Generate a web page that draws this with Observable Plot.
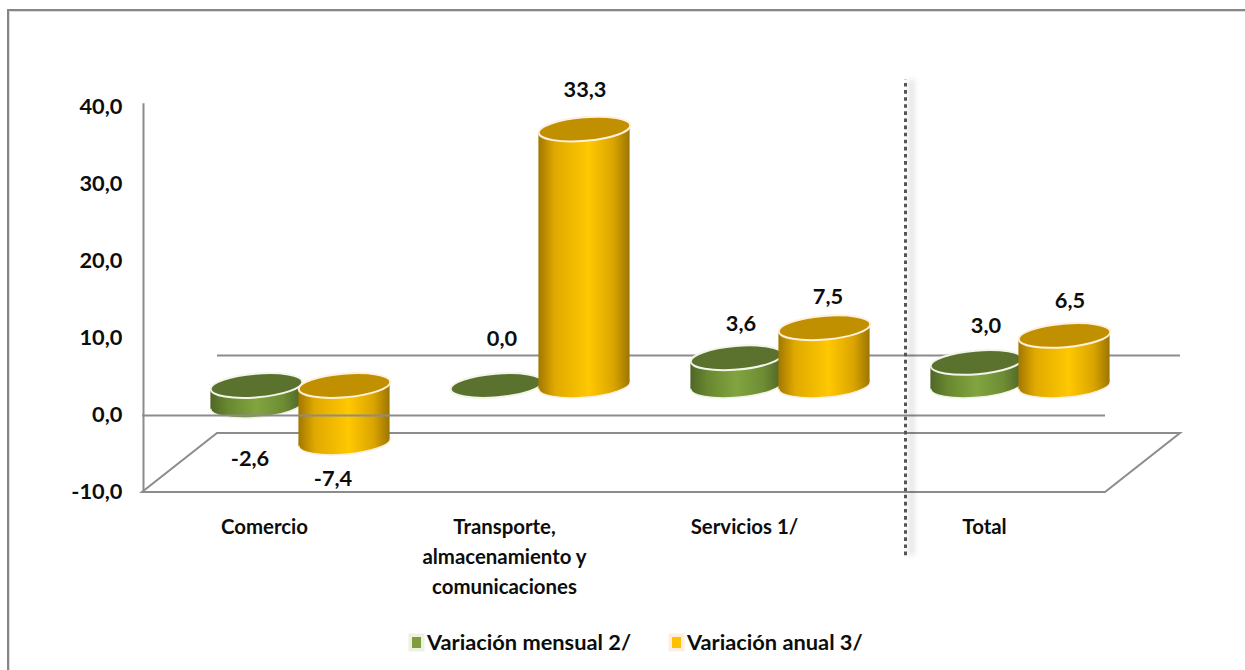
<!DOCTYPE html>
<html lang="es">
<head>
<meta charset="utf-8">
<script src="https://cdn.jsdelivr.net/npm/d3@7"></script>
<script src="https://cdn.jsdelivr.net/npm/@observablehq/plot@0.6"></script>
<style>
  html, body { margin: 0; padding: 0; background: #fff; width: 1245px; height: 670px; overflow: hidden; }
  body { position: relative; font-family: Lato, "Open Sans", sans-serif; color: #0d0d0d; }
  #frame { position: absolute; left: 7px; top: 9px; right: -5px; bottom: -5px; border: solid #868686; border-width: 2.5px 0 0 2.5px; box-shadow: inset 1px 1px 0 #dcdcdc; pointer-events: none; }
  #chart svg { display: block; }
  #legend { position: absolute; left: 0; top: 628px; height: 28px; width: 100%; font-weight: 700; font-size: 21.8px; line-height: 28px; }
  .key { position: absolute; top: 0; white-space: nowrap; }
  .swatch { position: absolute; top: 9px; width: 9px; height: 11px; }
  .sep { filter: blur(2.5px); }
</style>
</head>
<body>
<div id="frame"></div>
<div id="chart"></div>
<div id="legend">
  <span class="swatch" style="left:412px;background:#7f9c3f;box-shadow:0 0 0 3.5px #ecf1e2"></span>
  <span class="key" style="left:427px">Variación mensual 2/</span>
  <span class="swatch" style="left:672px;background:#ffc000;box-shadow:0 0 0 3.5px #fdeee0"></span>
  <span class="key" style="left:687px">Variación anual 3/</span>
</div>
<script>
const categories = ["Comercio", "Transporte,\nalmacenamiento y\ncomunicaciones", "Servicios 1/", "Total"];
const mensual = [-2.6, 0.0, 3.6, 3.0];
const anual = [-7.4, 33.3, 7.5, 6.5];
const yTicks = [-10, 0, 10, 20, 30, 40];

// Hand-placed label nudges of the original chart, in pixels.
const mensualLabelOffsets = [[-7, 53], [5, -46], [4, -34], [9, -36]];
const anualLabelOffsets = [[-12, 37], [0, -39], [3, -31], [5, -34]];

const comma = (v) => v.toFixed(1).replace(".", ",");
const table = (values) => categories.map((c, i) => ({c, v: values[i]}));

const font = "Lato, 'Open Sans', sans-serif";
const textSize = 21.8;
const categorySize = 20.4;
const grey = "#8c8c8c";
const depth = {dx: 75, dy: -60};
const plane = {dx: 36, dy: -30};
const tilt = -4.8;
const rx = 46, ry = 11.8;

// Tilted ellipse as a Plot symbol (bezier approximation).
const ellipseSymbol = {
  draw(ctx) {
    const a = tilt * Math.PI / 180, c = Math.cos(a), s = Math.sin(a), k = 0.5523;
    const P = (x, y) => [x * c - y * s, x * s + y * c];
    const seg = [
      [[rx, k * ry], [k * rx, ry], [0, ry]],
      [[-k * rx, ry], [-rx, k * ry], [-rx, 0]],
      [[-rx, -k * ry], [-k * rx, -ry], [0, -ry]],
      [[k * rx, -ry], [rx, -k * ry], [rx, 0]]
    ];
    ctx.moveTo(...P(rx, 0));
    for (const [a1, a2, a3] of seg) ctx.bezierCurveTo(...P(...a1), ...P(...a2), ...P(...a3));
    ctx.closePath();
  }
};

// SVG gradient definitions, as a function mark.
const defs = () => {
  const ns = "http://www.w3.org/2000/svg";
  const d = document.createElementNS(ns, "defs");
  const grad = (id, stops) => {
    const g = document.createElementNS(ns, "linearGradient");
    g.setAttribute("id", id);
    for (const [o, col] of stops) {
      const s = document.createElementNS(ns, "stop");
      s.setAttribute("offset", o);
      s.setAttribute("stop-color", col);
      g.appendChild(s);
    }
    d.appendChild(g);
  };
  grad("bodyG", [[0, "#4f6627"], [0.18, "#68872f"], [0.5, "#82a440"], [0.8, "#6d8c34"], [1, "#4f6627"]]);
  grad("bodyO", [[0, "#a17800"], [0.18, "#e0a900"], [0.55, "#ffc800"], [0.82, "#dba500"], [1, "#9c7500"]]);
  return d;
};

// Floor of the 3D box, positioned from the scales.
const floor = (index, {y}, values, dims) => {
  const ns = "http://www.w3.org/2000/svg";
  const p = document.createElementNS(ns, "path");
  const l = dims.marginLeft, r = dims.width - dims.marginRight, b = y(-10);
  p.setAttribute("d", `M${l},${b}H${r}l75,-59H${l + 75}Z`);
  p.setAttribute("fill", "none");
  p.setAttribute("stroke", grey);
  p.setAttribute("stroke-width", 2);
  return p;
};

// The body of a cylinder is a bar sheared to follow the tilt of its caps.
function shear(index, scales, values, dims, ctx, next) {
  const g = next(index, scales, values, dims, ctx);
  const t = Math.tan(tilt * Math.PI / 180);
  g.querySelectorAll("rect").forEach((r) => {
    const cx = +r.getAttribute("x") + +r.getAttribute("width") / 2;
    r.setAttribute("transform", `matrix(1,${t},0,1,0,${-cx * t})`);
  });
  return g;
}

function cylinder(values, offset, bodyFill, capFill, rim, halo) {
  const data = table(values);
  const dx = plane.dx + offset, dy = plane.dy;
  const inset = 74.4;
  const cap = {x: "c", dx, dy, symbol: ellipseSymbol, r: 1};
  return [
    Plot.dot(data, {...cap, y: (d) => Math.min(d.v, 0), fill: bodyFill, stroke: halo, strokeWidth: 1.5}),
    Plot.barY(data, {x: "c", y1: 0, y2: "v", dx, dy, insetLeft: inset, insetRight: inset, fill: bodyFill, render: shear}),
    Plot.dot(data, {...cap, y: (d) => Math.max(d.v, 0), fill: capFill, stroke: rim, strokeWidth: 2})
  ];
}

function labels(values, offsets, base) {
  return table(values).map((d, i) => Plot.text([d], {
    x: "c", y: "v",
    text: (e) => comma(e.v),
    dx: 36.5 + base + offsets[i][0], dy: plane.dy + offsets[i][1],
    fontSize: textSize, fontWeight: 700, fontFamily: font, fill: "#0d0d0d"
  }));
}

const plot = Plot.plot({
  width: 1245,
  height: 628,
  marginLeft: 142,
  marginRight: 140,
  marginTop: 107,
  marginBottom: 136,
  style: {background: "transparent", fontFamily: font, overflow: "visible"},
  x: {type: "band", domain: categories, padding: 0, label: null},
  y: {domain: [-10, 40], label: null},
  marks: [
    defs,
    floor,
    Plot.ruleY([0], {...depth, stroke: grey, strokeWidth: 2}),
    ...cylinder(mensual, -44, "url(#bodyG)", "#5b722e", "#f1f5ea", "#eef3e4"),
    ...cylinder(anual, 44, "url(#bodyO)", "#c09000", "#fdf0df", "#fdeee0"),
    Plot.ruleY([0], {stroke: grey, strokeWidth: 2}),
    Plot.ruleX(["Comercio"], {dx: -121, y1: -10, y2: 40.5, stroke: grey, strokeWidth: 2}),
    Plot.ruleX(["Total"], {dx: -73, y1: -18.2, y2: 43.6, stroke: "#000", strokeOpacity: 0.09, strokeWidth: 7, className: "sep"}),
    Plot.ruleX(["Total"], {dx: -79, y1: -18.2, y2: 43.6, stroke: "#555", strokeWidth: 3, strokeDasharray: "3.6 3.5"}),
    Plot.axisY({ticks: yTicks, tickFormat: comma, tickSize: 0, tickPadding: 20, fontSize: textSize, fontWeight: 700, fontFamily: font, fill: "#0d0d0d", label: null}),
    Plot.axisX({tickSize: 0, tickPadding: 20, lineHeight: 1.47, fontSize: categorySize, fontWeight: 700, fontFamily: font, fill: "#0d0d0d", label: null}),
    ...labels(mensual, mensualLabelOffsets, -44),
    ...labels(anual, anualLabelOffsets, 44)
  ]
});
document.getElementById("chart").appendChild(plot);
</script>
</body>
</html>
